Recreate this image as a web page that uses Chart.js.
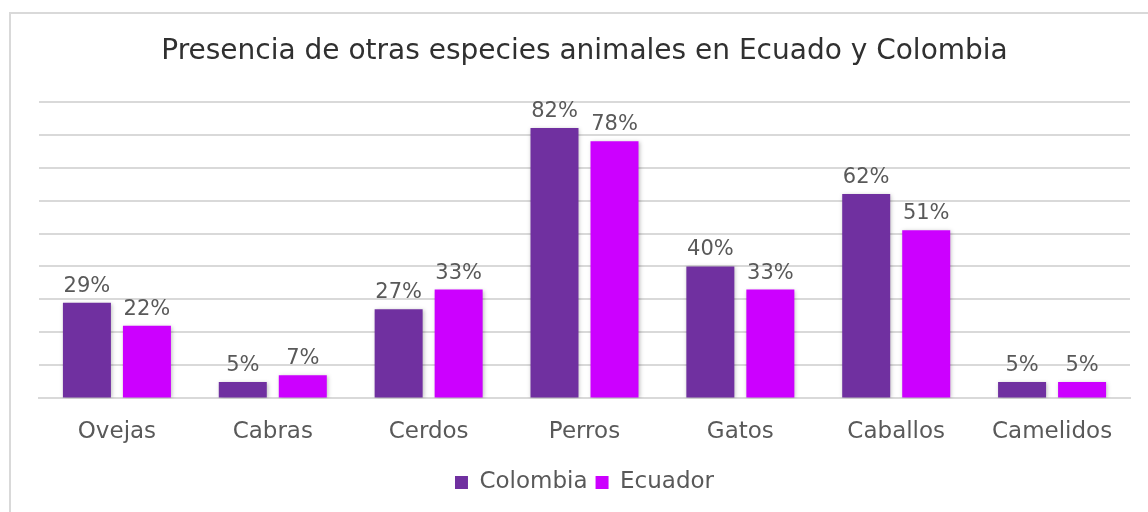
<!DOCTYPE html>
<html lang="es">
<head>
    <meta charset="UTF-8">
    <title>Presencia de otras especies animales</title>
    <script src="https://cdn.jsdelivr.net/npm/chart.js"></script>
    <style>
        body {
            margin: 0;
            background: #fff;
            font-family: "DejaVu Sans", sans-serif;
        }
        .frame {
            position: absolute;
            left: 9px;
            top: 12px;
            width: 1160px;
            height: 520px;
            border: 2px solid #d9d9d9;
        }
        .chart-box {
            position: absolute;
            left: 0;
            top: 0;
            width: 1148px;
            height: 512px;
        }
    </style>
</head>
<body>
    <div class="frame"></div>
    <div class="chart-box">
        <canvas id="especiesChart"></canvas>
    </div>

    <script>
        const categorias = ['Ovejas', 'Cabras', 'Cerdos', 'Perros', 'Gatos', 'Caballos', 'Camelidos'];
        const colombia = [29, 5, 27, 82, 40, 62, 5];
        const ecuador = [22, 7, 33, 78, 33, 51, 5];
        const tituloTexto = 'Presencia de otras especies animales en Ecuado y Colombia';

        const fuente = '"DejaVu Sans", sans-serif';

        // etiquetas de valor encima de cada barra
        const etiquetas = {
            id: 'etiquetas',
            afterDatasetsDraw(chart) {
                const ctx = chart.ctx;
                ctx.save();
                ctx.font = '21px ' + fuente;
                ctx.fillStyle = '#595959';
                ctx.textAlign = 'center';
                ctx.textBaseline = 'bottom';
                chart.data.datasets.forEach((ds, i) => {
                    chart.getDatasetMeta(i).data.forEach((bar, j) => {
                        ctx.fillText(ds.data[j] + '%', bar.x, bar.y - 6);
                    });
                });
                ctx.restore();
            }
        };

        const sombra = {
            id: 'sombra',
            beforeDatasetsDraw(chart) {
                const ctx = chart.ctx;
                ctx.save();
                ctx.shadowColor = 'rgba(0,0,0,0.25)';
                ctx.shadowBlur = 4;
                ctx.shadowOffsetX = 1;
                ctx.shadowOffsetY = 1;
            },
            afterDatasetsDraw(chart) {
                chart.ctx.restore();
            }
        };

        const ctx = document.getElementById('especiesChart').getContext('2d');
        new Chart(ctx, {
            type: 'bar',
            data: {
                labels: categorias,
                datasets: [{
                    label: 'Colombia',
                    data: colombia,
                    backgroundColor: '#7030a0'
                }, {
                    label: 'Ecuador',
                    data: ecuador,
                    backgroundColor: '#cc00ff'
                }]
            },
            options: {
                responsive: true,
                maintainAspectRatio: false,
                animation: false,
                categoryPercentage: 0.77,
                barPercentage: 0.8,
                layout: {
                    padding: { left: 39, right: 18, top: 20, bottom: 8 }
                },
                plugins: {
                    title: {
                        display: true,
                        text: tituloTexto,
                        color: '#303030',
                        font: { family: fuente, size: 28, weight: 'normal' },
                        padding: { top: 15, bottom: 33 }
                    },
                    legend: {
                        position: 'bottom',
                        labels: {
                            color: '#595959',
                            font: { family: fuente, size: 23 },
                            boxWidth: 13,
                            boxHeight: 13,
                            padding: 8
                        }
                    },
                    tooltip: { enabled: false }
                },
                scales: {
                    x: {
                        grid: { display: false },
                        border: { color: '#d9d9d9', width: 2 },
                        ticks: {
                            color: '#595959',
                            font: { family: fuente, size: 23 },
                            padding: 12
                        },
                        afterFit(scale) {
                            scale.height += 5;
                        }
                    },
                    y: {
                        min: 0,
                        max: 90,
                        ticks: { display: false, stepSize: 10 },
                        border: { display: false },
                        grid: { color: '#d9d9d9', lineWidth: 2, drawTicks: false }
                    }
                }
            },
            plugins: [sombra, etiquetas]
        });
    </script>
</body>
</html>
